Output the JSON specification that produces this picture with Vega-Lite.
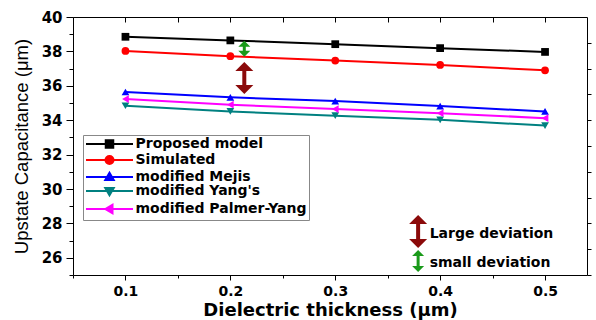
{
  "$schema": "https://vega.github.io/schema/vega-lite/v6.json",
  "width": 514,
  "height": 258,
  "autosize": "none",
  "padding": {"left": 73, "top": 17, "right": 9, "bottom": 45},
  "config": {"view": {"stroke": null}, "font": "DejaVu Sans"},
  "datasets": {
    "series": [
      {"t": 0.1, "v": 38.85, "s": "Proposed model"},
      {"t": 0.2, "v": 38.64, "s": "Proposed model"},
      {"t": 0.3, "v": 38.42, "s": "Proposed model"},
      {"t": 0.4, "v": 38.19, "s": "Proposed model"},
      {"t": 0.5, "v": 37.97, "s": "Proposed model"},
      {"t": 0.1, "v": 38.03, "s": "Simulated"},
      {"t": 0.2, "v": 37.72, "s": "Simulated"},
      {"t": 0.3, "v": 37.47, "s": "Simulated"},
      {"t": 0.4, "v": 37.21, "s": "Simulated"},
      {"t": 0.5, "v": 36.9, "s": "Simulated"},
      {"t": 0.1, "v": 35.64, "s": "modified Mejis"},
      {"t": 0.2, "v": 35.33, "s": "modified Mejis"},
      {"t": 0.3, "v": 35.11, "s": "modified Mejis"},
      {"t": 0.4, "v": 34.82, "s": "modified Mejis"},
      {"t": 0.5, "v": 34.51, "s": "modified Mejis"},
      {"t": 0.1, "v": 34.84, "s": "modified Yang's"},
      {"t": 0.2, "v": 34.51, "s": "modified Yang's"},
      {"t": 0.3, "v": 34.26, "s": "modified Yang's"},
      {"t": 0.4, "v": 34.02, "s": "modified Yang's"},
      {"t": 0.5, "v": 33.69, "s": "modified Yang's"},
      {"t": 0.1, "v": 35.23, "s": "modified Palmer-Yang"},
      {"t": 0.2, "v": 34.9, "s": "modified Palmer-Yang"},
      {"t": 0.3, "v": 34.65, "s": "modified Palmer-Yang"},
      {"t": 0.4, "v": 34.41, "s": "modified Palmer-Yang"},
      {"t": 0.5, "v": 34.12, "s": "modified Palmer-Yang"}
    ],
    "arrows": [
      {"kind": "large", "x": 0.2133, "top": 37.12, "bottom": 35.78},
      {"kind": "small", "x": 0.2133, "top": 38.45, "bottom": 37.87},
      {"kind": "large", "x": 0.379, "top": 28.23, "bottom": 26.83},
      {"kind": "small", "x": 0.379, "top": 26.28, "bottom": 25.35}
    ],
    "notes": [
      {"x": 0.39, "y": 27.38, "text": "Large deviation"},
      {"x": 0.39, "y": 25.7, "text": "small deviation"}
    ]
  },
  "resolve": {
    "scale": {"color": "independent", "stroke": "independent", "fill": "independent", "shape": "independent", "size": "independent"},
    "axis": {"x": "independent", "y": "independent"}
  },
  "layer": [
    {
      "data": {"name": "series"},
      "mark": {"type": "line", "strokeWidth": 2},
      "encoding": {
        "x": {
          "field": "t", "type": "quantitative",
          "scale": {"domain": [0.05, 0.54], "nice": false, "zero": false},
          "axis": {
            "orient": "bottom",
            "title": "Dielectric thickness (μm)",
            "titleFont": "DejaVu Sans", "titleFontSize": 18, "titleFontWeight": "bold", "titleColor": "#000",
            "titlePadding": 3,
            "values": [0.05, 0.1, 0.15, 0.2, 0.25, 0.3, 0.35, 0.4, 0.45, 0.5],
            "labelExpr": "abs(datum.value*10 - round(datum.value*10)) < 0.001 ? format(datum.value, '.1f') : ''",
            "labelFont": "DejaVu Sans", "labelFontSize": 14, "labelFontWeight": "bold", "labelColor": "#000",
            "labelPadding": 4,
            "tickSize": {"condition": {"test": "abs(datum.value*10 - round(datum.value*10)) < 0.001", "value": 5}, "value": 3},
            "tickColor": "#000", "domainColor": "#000", "grid": false, "labelFlush": false
          }
        },
        "y": {
          "field": "v", "type": "quantitative",
          "scale": {"domain": [25, 40], "nice": false, "zero": false},
          "axis": {
            "orient": "left",
            "title": "Upstate Capacitance (μm)",
            "titleFont": "Liberation Sans", "titleFontSize": 18.5, "titleFontWeight": "normal", "titleColor": "#000",
            "titlePadding": 10,
            "values": [25, 26, 27, 28, 29, 30, 31, 32, 33, 34, 35, 36, 37, 38, 39, 40],
            "labelExpr": "datum.value % 2 == 0 ? datum.value : ''",
            "labelFont": "DejaVu Sans", "labelFontSize": 15, "labelFontWeight": "bold", "labelColor": "#000",
            "labelPadding": 4,
            "tickSize": {"condition": {"test": "datum.value % 2 == 0", "value": 7}, "value": 4},
            "tickColor": "#000", "domainColor": "#000", "grid": false, "labelFlush": false
          }
        },
        "color": {
          "field": "s", "type": "nominal",
          "scale": {"domain": ["Proposed model", "Simulated", "modified Mejis", "modified Yang's", "modified Palmer-Yang"], "range": ["#000000", "#FF0000", "#0000FF", "#008080", "#FF00FF"]},
          "legend": null
        }
      }
    },
    {
      "data": {"name": "series"},
      "mark": {"type": "point", "filled": true, "opacity": 1, "size": 60, "strokeWidth": 0},
      "encoding": {
        "x": {"field": "t", "type": "quantitative", "axis": null},
        "y": {"field": "v", "type": "quantitative", "axis": null},
        "color": {
          "field": "s", "type": "nominal",
          "scale": {"domain": ["Proposed model", "Simulated", "modified Mejis", "modified Yang's", "modified Palmer-Yang"], "range": ["#000000", "#FF0000", "#0000FF", "#008080", "#FF00FF"]},
          "legend": null
        },
        "shape": {
          "field": "s", "type": "nominal",
          "scale": {"domain": ["Proposed model", "Simulated", "modified Mejis", "modified Yang's", "modified Palmer-Yang"], "range": ["square", "circle", "triangle-up", "triangle-down", "triangle-left"]},
          "legend": null
        }
      }
    },
    {
      "data": {"name": "series"},
      "transform": [{"filter": "false"}],
      "mark": {"type": "point", "filled": true, "opacity": 1, "size": 100, "strokeWidth": 2},
      "encoding": {
        "x": {"field": "t", "type": "quantitative", "axis": null},
        "y": {"field": "v", "type": "quantitative", "axis": null},
        "color": {
          "field": "s", "type": "nominal",
          "scale": {"domain": ["Proposed model", "Simulated", "modified Mejis", "modified Yang's", "modified Palmer-Yang"], "range": ["#000000", "#FF0000", "#0000FF", "#008080", "#FF00FF"]},
          "legend": {
            "title": null, "orient": "none", "legendX": 10, "legendY": 118,
            "strokeColor": "#888", "fillColor": "#fff", "padding": 2,
            "labelFont": "DejaVu Sans", "labelFontSize": 14, "labelFontWeight": "bold", "labelColor": "#000", "labelLimit": 400,
            "symbolSize": 100, "symbolStrokeWidth": 2, "symbolOffset": 17.5, "labelOffset": 19, "rowPadding": 0
          }
        },
        "stroke": {
          "field": "s", "type": "nominal",
          "scale": {"domain": ["Proposed model", "Simulated", "modified Mejis", "modified Yang's", "modified Palmer-Yang"], "range": ["#000000", "#FF0000", "#0000FF", "#008080", "#FF00FF"]},
          "legend": {
            "title": null, "orient": "none", "legendX": 10, "legendY": 118,
            "strokeColor": "#888", "fillColor": "#fff", "padding": 2,
            "labelFont": "DejaVu Sans", "labelFontSize": 14, "labelFontWeight": "bold", "labelColor": "#000", "labelLimit": 400,
            "symbolSize": 100, "symbolStrokeWidth": 2, "symbolOffset": 17.5, "labelOffset": 19, "rowPadding": 0
          }
        },
        "shape": {
          "field": "s", "type": "nominal",
          "scale": {"domain": ["Proposed model", "Simulated", "modified Mejis", "modified Yang's", "modified Palmer-Yang"], "range": [
            "M-4.7,0H4.7M-0.75,-0.75H0.75V0.75H-0.75Z",
            "M-4.7,0H4.7M-0.8,0A0.8,0.8 0 1,0 0.8,0A0.8,0.8 0 1,0 -0.8,0Z",
            "M-4.7,0H4.7M0,-0.85L0.85,0.6H-0.85Z",
            "M-4.7,0H4.7M0,0.85L0.85,-0.6H-0.85Z",
            "M-4.7,0H4.7M-0.85,0L0.6,-0.85V0.85Z"
          ]},
          "legend": {
            "title": null, "orient": "none", "legendX": 10, "legendY": 118,
            "strokeColor": "#888", "fillColor": "#fff", "padding": 2,
            "labelFont": "DejaVu Sans", "labelFontSize": 14, "labelFontWeight": "bold", "labelColor": "#000", "labelLimit": 400,
            "symbolSize": 100, "symbolStrokeWidth": 2, "symbolOffset": 17.5, "labelOffset": 19, "rowPadding": 0
          }
        }
      }
    },
    {
      "data": {"name": "series"},
      "mark": {"type": "point", "opacity": 0},
      "encoding": {
        "x": {
          "field": "t", "type": "quantitative",
          "axis": {"orient": "top", "title": null, "labels": false, "values": [0.05, 0.1, 0.15, 0.2, 0.25, 0.3, 0.35, 0.4, 0.45, 0.5], "tickSize": -5, "tickColor": "#000", "domainColor": "#000", "grid": false}
        },
        "y": {
          "field": "v", "type": "quantitative",
          "axis": {"orient": "right", "title": null, "labels": false, "values": [25, 26.5, 28, 29.5, 31, 32.5, 34, 35.5, 37, 38.5], "tickSize": 4, "tickColor": "#000", "domainColor": "#000", "grid": false}
        }
      }
    },
    {
      "data": {"name": "arrows"},
      "mark": {"type": "rule"},
      "encoding": {
        "x": {"field": "x", "type": "quantitative", "axis": null},
        "y": {"field": "top", "type": "quantitative", "axis": null},
        "y2": {"field": "bottom"},
        "stroke": {"field": "kind", "type": "nominal", "scale": {"domain": ["large", "small"], "range": ["#8B0A0A", "#1A9A1A"]}, "legend": null},
        "size": {"field": "kind", "type": "nominal", "scale": {"domain": ["large", "small"], "range": [4, 3]}, "legend": null}
      }
    },
    {
      "data": {"name": "arrows"},
      "mark": {"type": "point", "filled": true, "opacity": 1, "strokeWidth": 0, "shape": "M-1,0.5L0,-0.5L1,0.5Z"},
      "encoding": {
        "x": {"field": "x", "type": "quantitative", "axis": null},
        "y": {"field": "top", "type": "quantitative", "axis": null},
        "fill": {"field": "kind", "type": "nominal", "scale": {"domain": ["large", "small"], "range": ["#8B0A0A", "#1A9A1A"]}, "legend": null},
        "size": {"field": "kind", "type": "nominal", "scale": {"domain": ["large", "small"], "range": [324, 144]}, "legend": null}
      }
    },
    {
      "data": {"name": "arrows"},
      "mark": {"type": "point", "filled": true, "opacity": 1, "strokeWidth": 0, "shape": "M-1,-0.5L0,0.5L1,-0.5Z"},
      "encoding": {
        "x": {"field": "x", "type": "quantitative", "axis": null},
        "y": {"field": "bottom", "type": "quantitative", "axis": null},
        "fill": {"field": "kind", "type": "nominal", "scale": {"domain": ["large", "small"], "range": ["#8B0A0A", "#1A9A1A"]}, "legend": null},
        "size": {"field": "kind", "type": "nominal", "scale": {"domain": ["large", "small"], "range": [324, 144]}, "legend": null}
      }
    },
    {
      "data": {"name": "notes"},
      "mark": {"type": "text", "align": "left", "baseline": "middle", "font": "DejaVu Sans", "fontSize": 14, "fontWeight": "bold", "color": "#000"},
      "encoding": {
        "x": {"field": "x", "type": "quantitative", "axis": null},
        "y": {"field": "y", "type": "quantitative", "axis": null},
        "text": {"field": "text"}
      }
    }
  ]
}
